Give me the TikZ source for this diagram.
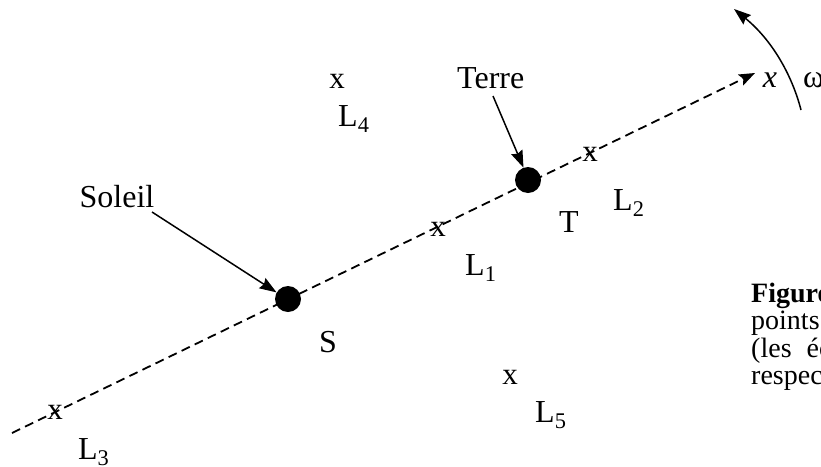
\documentclass[tikz,border=0pt]{standalone}
\usepackage{fontspec}
\setmainfont{Liberation Serif}
\usetikzlibrary{arrows.meta}
\begin{document}
\begin{tikzpicture}[x=1pt,y=-1pt,
  lbl/.style={inner sep=0pt, font=\fontsize{32}{36}\selectfont},
  xmark/.style={inner sep=0pt, font=\fontsize{31}{34}\selectfont},
  captxt/.style={inner sep=0pt, anchor=base west, font=\fontsize{28}{28}\selectfont},
  body/.style={circle, fill=black, minimum size=26pt, inner sep=0pt},
  axis/.style={dashed, dash pattern=on 9pt off 5.5pt, line width=1.8pt, -{Stealth[length=16pt,width=12pt,inset=3pt]}},
  pointer/.style={line width=1.5pt, -{Stealth[length=17pt,width=12pt,inset=2pt]}}]
\useasboundingbox (0,0) rectangle (821,466);
\clip (0,0) rectangle (821,466);
\coordinate (A) at (12,433);
\coordinate (B) at (755,73);
\draw[axis] (A) -- (B);
\node[body] (S) at (288,299) {};
\node[body] (T) at (528,180) {};
\node[lbl, font=\fontsize{32}{36}\selectfont\itshape, anchor=base] (xlab) at (770,87) {x};
\node[lbl, anchor=base west] (om) at (803,87) {ω};
\coordinate (w1) at (801,110);
\coordinate (w2) at (734,9);
\draw[pointer] (w1) .. controls (792,75) and (772,40) .. (w2);
\node[lbl, anchor=base] (soleil) at (117,207) {Soleil};
\node[lbl, anchor=base west] (terre) at (457,88) {Terre};
\coordinate (s0) at (152,212);
\coordinate (t0) at (493,96);
\draw[pointer] (s0) -- (S.150);
\draw[pointer] (t0) -- (T.110);
\node[lbl] (Slab) at (328,342) {S};
\node[lbl] (Tlab) at (569,222) {T};
\node[xmark] (x1) at (438,229) {x};
\node[lbl, anchor=base west] (L1) at (465,275) {L\textsubscript{1}};
\node[xmark] (x2) at (590,154) {x};
\node[lbl, anchor=base west] (L2) at (613,210) {L\textsubscript{2}};
\node[xmark] (x3) at (55,412) {x};
\node[lbl, anchor=base west] (L3) at (78,459) {L\textsubscript{3}};
\node[xmark] (x4) at (337,81) {x};
\node[lbl, anchor=base west] (L4) at (338,126) {L\textsubscript{4}};
\node[xmark] (x5) at (510,377) {x};
\node[lbl, anchor=base west] (L5) at (535,422) {L\textsubscript{5}};
\node[captxt] (cap1) at (751,302) {\textbf{Figure}};
\node[captxt] (cap2) at (751,329.5) {points};
\node[captxt] (cap3) at (751,357) {(les\hskip 15pt échelles};
\node[captxt] (cap4) at (751,384.5) {respectées};
\end{tikzpicture}
\end{document}
